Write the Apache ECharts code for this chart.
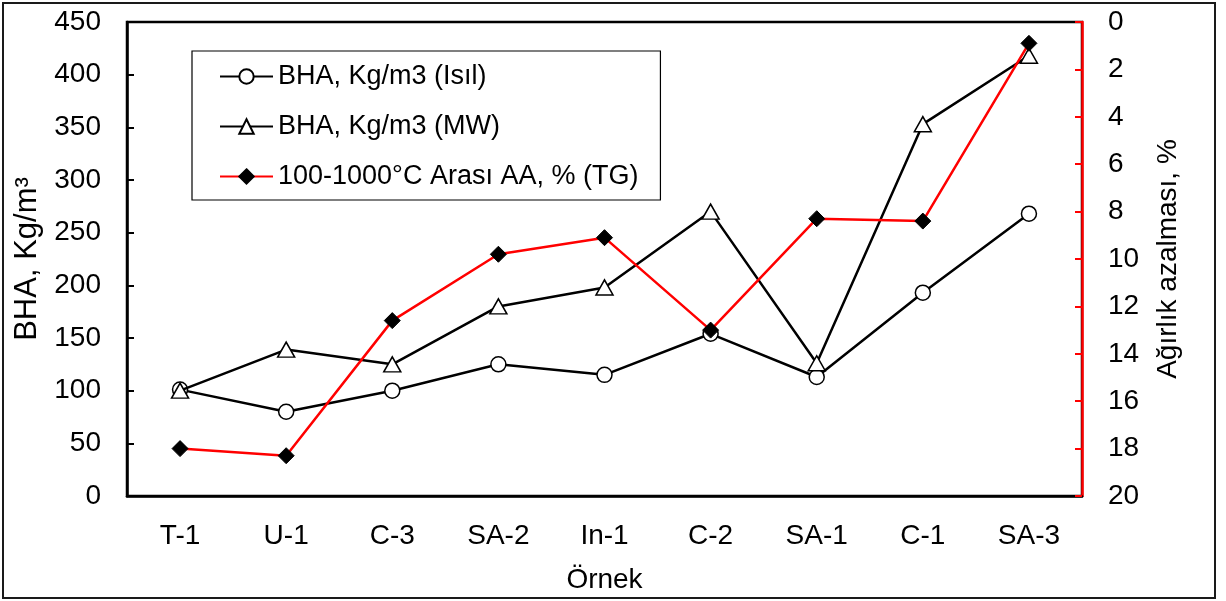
<!DOCTYPE html>
<html>
<head>
<meta charset="utf-8">
<script src="https://cdn.jsdelivr.net/npm/echarts@6/dist/echarts.min.js"></script>
<style>
  html, body { margin: 0; padding: 0; background: #fff; }
  #wrap { position: relative; width: 1226px; height: 601px; }
  #chart { position: absolute; left: 0; top: 0; width: 1226px; height: 601px; }
  #frame { position: absolute; left: 2px; top: 2px; width: 1210px; height: 593px; border: 2px solid #1a1a1a; pointer-events: none; }
</style>
</head>
<body>
<div id="wrap">
  <div id="chart"></div>
  <div id="frame"></div>
</div>
<script>
const categories = ['T-1', 'U-1', 'C-3', 'SA-2', 'In-1', 'C-2', 'SA-1', 'C-1', 'SA-3'];
const bhaIsil = [101, 80, 100, 125, 115, 154, 113, 193, 268];
const bhaMW = [100, 139, 125, 180, 198, 270, 126, 353, 418];
const tgLoss = [18.0, 18.3, 12.6, 9.8, 9.1, 13.0, 8.3, 8.4, 0.9];
const leftTicks = { min: 0, max: 450, interval: 50 };
const rightTicks = { min: 0, max: 20, interval: 2 };

const FONT = 'Liberation Sans, Arial, sans-serif';
const chart = echarts.init(document.getElementById('chart'), null, { renderer: 'canvas' });

chart.setOption({
  animation: false,
  backgroundColor: '#fff',
  textStyle: { fontFamily: FONT, color: '#000' },
  grid: {
    left: 127, right: 144, top: 22, bottom: 105,
    show: true, borderColor: '#000', borderWidth: 2.5, backgroundColor: 'transparent',
    containLabel: false
  },
  legend: {
    orient: 'vertical',
    left: 192, top: 51,
    padding: [12, 22, 10, 27],
    itemWidth: 53, itemHeight: 18, itemGap: 23,
    borderColor: '#000', borderWidth: 1.2,
    backgroundColor: '#fff',
    textStyle: { fontFamily: FONT, fontSize: 27, color: '#000' },
    data: ['BHA, Kg/m3 (Isıl)', 'BHA, Kg/m3 (MW)', '100-1000°C Arası AA, % (TG)']
  },
  xAxis: {
    type: 'category',
    data: categories,
    boundaryGap: true,
    axisLine: { lineStyle: { color: '#000', width: 2.5 } },
    axisTick: { show: false },
    axisLabel: { fontFamily: FONT, fontSize: 28, color: '#000', margin: 26 },
    name: 'Örnek',
    nameLocation: 'middle',
    nameGap: 70,
    nameTextStyle: { fontFamily: FONT, fontSize: 28, color: '#000' }
  },
  yAxis: [
    {
      type: 'value',
      position: 'left',
      min: leftTicks.min, max: leftTicks.max, interval: leftTicks.interval,
      axisLine: { show: true, lineStyle: { color: '#000', width: 2.5 } },
      axisTick: { show: true, inside: true, length: 7, lineStyle: { color: '#000', width: 2 } },
      splitLine: { show: false },
      axisLabel: { fontFamily: FONT, fontSize: 28, color: '#000', margin: 26 },
      name: 'BHA, Kg/m³',
      nameLocation: 'middle',
      nameRotate: 90,
      nameGap: 84,
      nameTextStyle: { fontFamily: FONT, fontSize: 31, color: '#000' }
    },
    {
      type: 'value',
      position: 'right',
      inverse: true,
      min: rightTicks.min, max: rightTicks.max, interval: rightTicks.interval,
      axisLine: { show: true, lineStyle: { color: '#ff0000', width: 2.5 } },
      axisTick: { show: true, inside: true, length: 7, lineStyle: { color: '#ff0000', width: 2 } },
      splitLine: { show: false },
      axisLabel: { fontFamily: FONT, fontSize: 28, color: '#000', margin: 26 },
      name: 'Ağırlık azalması, %',
      nameLocation: 'middle',
      nameRotate: 90,
      nameGap: 72,
      nameTextStyle: { fontFamily: FONT, fontSize: 28, color: '#000' }
    }
  ],
  series: [
    {
      name: 'BHA, Kg/m3 (Isıl)',
      type: 'line',
      yAxisIndex: 0,
      data: bhaIsil,
      symbol: 'circle',
      symbolSize: 15,
      lineStyle: { color: '#000', width: 2.5 },
      itemStyle: { color: '#fff', borderColor: '#000', borderWidth: 1.5 },
      z: 2
    },
    {
      name: 'BHA, Kg/m3 (MW)',
      type: 'line',
      yAxisIndex: 0,
      data: bhaMW,
      symbol: 'triangle',
      symbolSize: [17, 15],
      lineStyle: { color: '#000', width: 2.5 },
      itemStyle: { color: '#fff', borderColor: '#000', borderWidth: 1.5 },
      z: 3
    },
    {
      name: '100-1000°C Arası AA, % (TG)',
      type: 'line',
      yAxisIndex: 1,
      data: tgLoss,
      symbol: 'diamond',
      symbolSize: 16,
      lineStyle: { color: '#ff0000', width: 2.5 },
      itemStyle: { color: '#000', borderColor: '#000', borderWidth: 1 },
      z: 4
    }
  ]
});
</script>
</body>
</html>
